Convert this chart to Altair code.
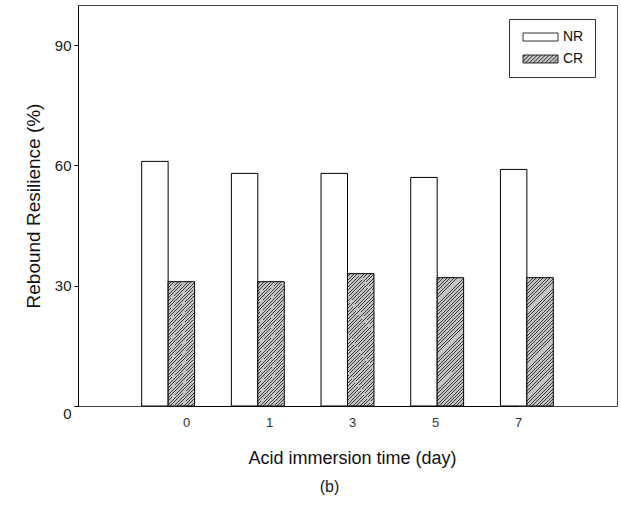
import altair as alt
import pandas as pd

# ---------------- data ----------------
days = ["0", "1", "3", "5", "7"]
nr_values = [61, 58, 58, 57, 59]
cr_values = [31, 31, 33, 32, 32]
series_names = ["NR", "CR"]

rows = []
for d, n, c in zip(days, nr_values, cr_values):
    rows.append({"day": d, "series": "NR", "value": n})
    rows.append({"day": d, "series": "CR", "value": c})
df = pd.DataFrame(rows)

FONT = "Liberation Sans"
LIGHT = "#c4c4c4"
DARK = "#3c3c3c"

# ---------------- hatch fill for CR bars (diagonal stripes via hard-stop gradient) ----------------
bw, bh = 26.4, 128.0          # typical bar box (px) used to keep stripes at ~45 deg
cg = (bw + bh) / (bw ** 2 + bh ** 2)
period = 3.4
n_per = int(round((bw + bh) / period))
line_frac = 0.27
stops = []
for k in range(n_per):
    a = k / n_per
    b = (k + 1 - line_frac) / n_per
    e = (k + 1) / n_per
    stops += [
        {"offset": a, "color": LIGHT},
        {"offset": b, "color": LIGHT},
        {"offset": b, "color": DARK},
        {"offset": e, "color": DARK},
    ]
hatch_fill = {"gradient": "linear", "x1": 0, "y1": 0, "x2": cg * bw, "y2": cg * bh, "stops": stops}

# ---------------- legend symbols (custom paths) ----------------
sx0, sx1, sy0, sy1 = -1.0, 7.75, -1.0, 1.0


def rect_path(x0, x1, y0, y1):
    return f"M{x0},{y0}H{x1}V{y1}H{x0}Z"


nr_path = rect_path(sx0, sx1, sy0, sy1)
hatch = []
s = sx0 + sy0 + 0.6
while s < sx1 + sy1:
    ya = max(sy0, s - sx1)
    yb = min(sy1, s - sx0)
    if yb > ya:
        hatch.append(f"M{s - ya:.3f},{ya:.3f}L{s - yb:.3f},{yb:.3f}")
    s += 1.0
cr_path = nr_path + "".join(hatch)

# ---------------- scales / axes ----------------
y_scale = alt.Scale(domain=[0, 100], nice=False, zero=True)
y_axis = alt.Axis(
    values=[0, 30, 60, 90], grid=False, tickSize=4, tickColor="black", tickWidth=1,
    domainColor="black", domainWidth=1,
    labelFont=FONT, labelFontSize=15, labelColor="#222", labelPadding=3,
    labelBaseline={"condition": {"test": "datum.value == 0", "value": "top"}, "value": "middle"},
    title="Rebound Resilience (%)", titleFont=FONT, titleFontSize=19,
    titleFontWeight="normal", titleColor="#111", titlePadding=11,
)
band_scale = alt.Scale(paddingInner=0.41, paddingOuter=0.71, align=0.5)
offset_scale = alt.Scale(domain=series_names, paddingInner=0, paddingOuter=0)
# category labels in the reference sit on their own, slightly narrower, spacing
label_scale = alt.Scale(type="point", range=[108, 440], padding=0)

x_axis = alt.Axis(
    orient="bottom", title="Acid immersion time (day)", ticks=False, domain=True,
    domainColor="black", domainWidth=1, labelAngle=0, grid=False,
    labelFont=FONT, labelFontSize=13, labelColor="#333", labelPadding=10,
    titleFont=FONT, titleFontSize=18, titleFontWeight="normal", titleColor="#111",
    titlePadding=20,
)

legend = alt.Legend(
    title=None, orient="none", legendX=431, legendY=14, direction="vertical",
    padding=11, strokeColor="#333", fillColor="white",
    symbolSize=64, symbolStrokeWidth=0.8, symbolOpacity=1,
    labelFont=FONT, labelFontSize=14, labelColor="#111", labelOffset=29, rowPadding=8,
)

base = alt.Chart(df)

nr_bars = base.transform_filter("datum.series == 'NR'").mark_bar(
    fill="white", stroke="black", strokeWidth=1
).encode(
    x=alt.X("day:N", sort=days, scale=band_scale, axis=None),
    xOffset=alt.XOffset("series:N", scale=offset_scale),
    y=alt.Y("value:Q", scale=y_scale, axis=y_axis),
)

cr_bars = base.transform_filter("datum.series == 'CR'").mark_bar(
    fill=hatch_fill, stroke="black", strokeWidth=1
).encode(
    x=alt.X("day:N", sort=days, scale=band_scale, axis=None),
    xOffset=alt.XOffset("series:N", scale=offset_scale),
    y=alt.Y("value:Q", scale=y_scale, axis=y_axis),
)

# invisible layer that carries the category axis and the legend
guide_layer = base.mark_point(filled=True, opacity=0).encode(
    x=alt.X("day:N", sort=days, scale=label_scale, axis=x_axis),
    y=alt.Y("value:Q", scale=y_scale, axis=y_axis),
    fill=alt.Fill("series:N", scale=alt.Scale(domain=series_names, range=["white", LIGHT]), legend=legend),
    shape=alt.Shape("series:N", scale=alt.Scale(domain=series_names, range=[nr_path, cr_path]), legend=legend),
    stroke=alt.Stroke("series:N", scale=alt.Scale(domain=series_names, range=["black", "black"]), legend=legend),
)

chart = alt.layer(nr_bars, cr_bars, guide_layer).resolve_scale(
    x="independent", xOffset="independent"
).properties(
    width=539, height=401,
    autosize=alt.AutoSizeParams(type="none"),
    padding={"left": 78, "top": 5, "right": 4, "bottom": 100},
    title=alt.TitleParams(
        text="(b)", orient="bottom", anchor="middle", frame="group", dx=-18, offset=12,
        font=FONT, fontSize=16, fontWeight="normal", color="#222",
    ),
).configure_view(stroke="#444", strokeWidth=1)

chart.save("out.html", embed_options={"renderer": "svg", "actions": False})
